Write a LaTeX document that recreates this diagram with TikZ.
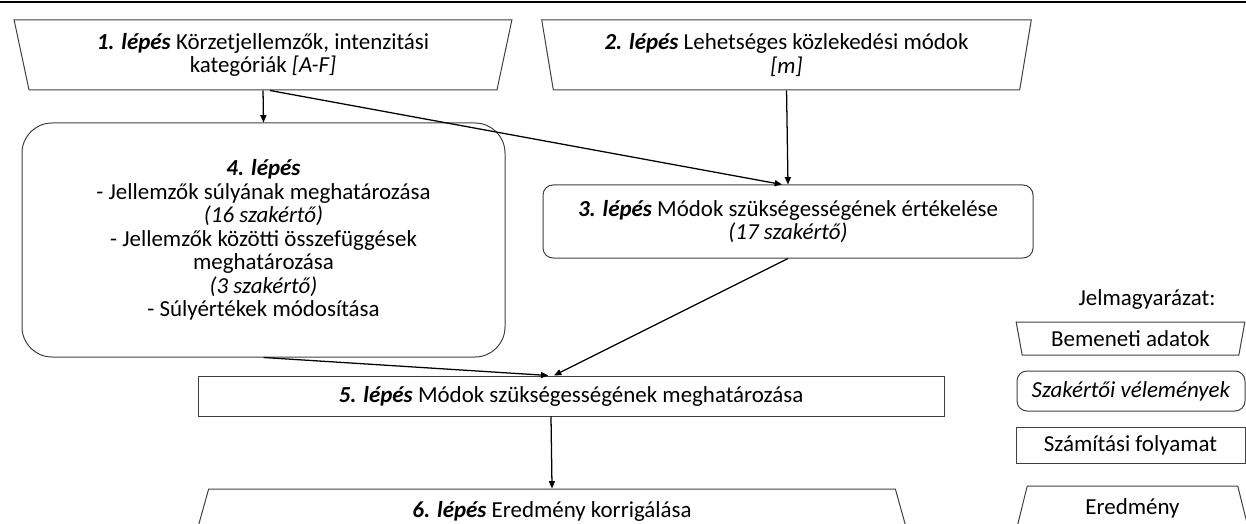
\documentclass[tikz,border=0pt]{standalone}
\usepackage{fontspec}
\setmainfont{Carlito}
\usepackage{xcolor}
\usepackage{tikz}
\usetikzlibrary{shapes.geometric, arrows.meta, positioning, calc}
\definecolor{boxgray}{RGB}{64,64,64}

\begin{document}
\begin{tikzpicture}[x=0.75pt,y=-0.75pt,
  every node/.style={font=\fontsize{17.2}{17.6}\selectfont, align=center, inner sep=0pt, text=black},
  inbox/.style={draw=boxgray, line width=0.75pt, trapezium, shape border rotate=180, trapezium stretches=true},
  outbox/.style={draw=boxgray, line width=0.75pt, trapezium, trapezium stretches=true},
  expbox/.style={draw=boxgray, line width=0.75pt, rectangle, rounded corners=7.5pt},
  calcbox/.style={draw=boxgray, line width=0.75pt, rectangle},
  conn/.style={line width=0.95pt, -{Triangle[length=5.5pt,width=4.5pt]}}]
  % Frame
  \useasboundingbox (0,0) rectangle (1246,524);
  \clip (0,0) rectangle (1246,524);
  \draw[line width=2.2pt] (0,2) -- (1246,2);

  % Input boxes
  \node[inbox, trapezium angle=76.3, minimum width={498*0.75pt}, minimum height={70*0.75pt}] (s1) at (263,55)
    {\textbf{\textit{1. lépés}} Körzetjellemzők, intenzitási\\kategóriák \textit{[A-F]}};
  \node[inbox, trapezium angle=78, minimum width={491*0.75pt}, minimum height={70*0.75pt}] (s2) at (786.5,55)
    {\textbf{\textit{2. lépés}} Lehetséges közlekedési módok\\\textit{[m]}};

  % Expert steps
  \node[expbox, minimum width={490*0.75pt}, minimum height={73*0.75pt}] (s3) at (788,221.5)
    {\textbf{\textit{3. lépés}} Módok szükségességének értékelése\\\textit{(17 szakértő)}};
  \node[expbox, rounded corners=22.5pt, minimum width={483*0.75pt}, minimum height={234*0.75pt}] (s4) at (263.5,240)
    {\textbf{\textit{4. lépés}}\\- Jellemzők súlyának meghatározása\\\textit{(16 szakértő)}\\- Jellemzők közötti összefüggések\\meghatározása\\\textit{(3 szakértő)}\\- Súlyértékek módosítása};

  % Calculation and result
  \node[calcbox, minimum width={746*0.75pt}, minimum height={40*0.75pt}] (s5) at (571,396)
    {\textbf{\textit{5. lépés}} Módok szükségességének meghatározása};
  \node[outbox, trapezium angle=76, minimum width={712*0.75pt}, minimum height={44*0.75pt}] (s6) at (552,511)
    {\textbf{\textit{6. lépés}} Eredmény korrigálása};

  % Connectors
  \draw[conn] (s1.south) -- (s4.north);
  \draw[conn] ([xshift=5.25pt]s1.south) -- ([xshift=-4.5pt]s3.north);
  \draw[conn] (s2.south) -- (s3.north);
  \draw[conn] (s4.south) -- ([xshift=-17pt]s5.north);
  \draw[conn] (s3.south) -- ([xshift=-12.75pt]s5.north);
  \draw[conn] ([xshift=-15pt]s5.south) -- (s6.north);

  % Legend
  \node (lgTitle) at (1147,300) {Jelmagyarázat:};
  \node[inbox, trapezium angle=74.7, minimum width={229*0.75pt}, minimum height={33*0.75pt}] (lgIn) at (1130.5,338.5) {Bemeneti adatok};
  \node[expbox, minimum width={228*0.75pt}, minimum height={40*0.75pt}] (lgExp) at (1131,391) {\textit{Szakértői vélemények}};
  \node[calcbox, minimum width={229*0.75pt}, minimum height={36*0.75pt}] (lgCalc) at (1130.5,445) {Számítási folyamat};
  \node[outbox, trapezium angle=76, minimum width={233*0.75pt}, minimum height={44*0.75pt}] (lgOut) at (1132.5,508) {Eredmény};
\end{tikzpicture}
\end{document}
